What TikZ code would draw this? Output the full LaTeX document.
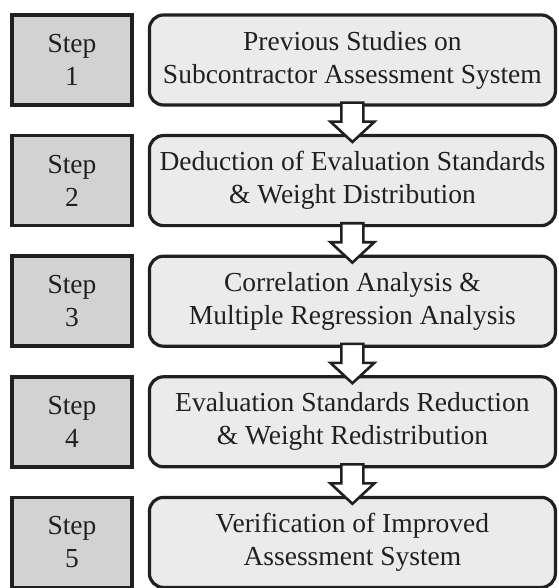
\documentclass[tikz,border=0pt]{standalone}
\usepackage{fontspec}
\setmainfont{Liberation Serif}
\usetikzlibrary{calc,positioning}
\definecolor{inkgray}{HTML}{231F20}
\definecolor{stepfill}{HTML}{D2D2D2}
\definecolor{taskfill}{HTML}{EBEBEB}
\tikzset{
  stepbox/.style={draw=inkgray, line width=3.6pt, fill=stepfill, align=center, minimum width=120pt, minimum height=90pt, inner sep=0pt, text=inkgray, font=\fontsize{27.5}{33}\selectfont},
  taskbox/.style={draw=inkgray, line width=3.2pt, fill=taskfill, rounded corners=14pt, align=center, minimum width=406pt, minimum height=90pt, inner sep=0pt, text=inkgray, font=\fontsize{27.5}{33}\selectfont},
  blockarrow/.style={draw=inkgray, line width=2.6pt, fill=white, line join=miter}
}
\begin{document}
\begin{tikzpicture}[node distance=27pt and 14pt]
  \useasboundingbox (0,0) rectangle (558pt,-588pt);
  \node[stepbox] (s1) at (72pt,-60pt) {Step\\1};
  \node[stepbox, below=of s1] (s2) {Step\\2};
  \node[stepbox, below=of s2] (s3) {Step\\3};
  \node[stepbox, below=of s3] (s4) {Step\\4};
  \node[stepbox, below=of s4] (s5) {Step\\5};

  \node[taskbox, right=of s1] (t1) {Previous Studies on\\Subcontractor Assessment System};
  \node[taskbox, right=of s2] (t2) {Deduction of Evaluation Standards\\\& Weight Distribution};
  \node[taskbox, right=of s3] (t3) {Correlation Analysis \&\\Multiple Regression Analysis};
  \node[taskbox, right=of s4] (t4) {Evaluation Standards Reduction\\\& Weight Redistribution};
  \node[taskbox, right=of s5] (t5) {Verification of Improved\\Assessment System};

  % hollow arrows between the stages
  \foreach \a/\b in {t1/t2,t2/t3,t3/t4,t4/t5}
    \draw[blockarrow] ($(\a.south)+(-11pt,4pt)$) -- ++(22pt,0) -- ++(0,-19pt) -- ++(11pt,0)
      -- ($(\b.north)+(0,-8pt)$) -- ($(\a.south)+(-22pt,-15pt)$) -- ++(11pt,0) -- cycle;
\end{tikzpicture}
\end{document}
